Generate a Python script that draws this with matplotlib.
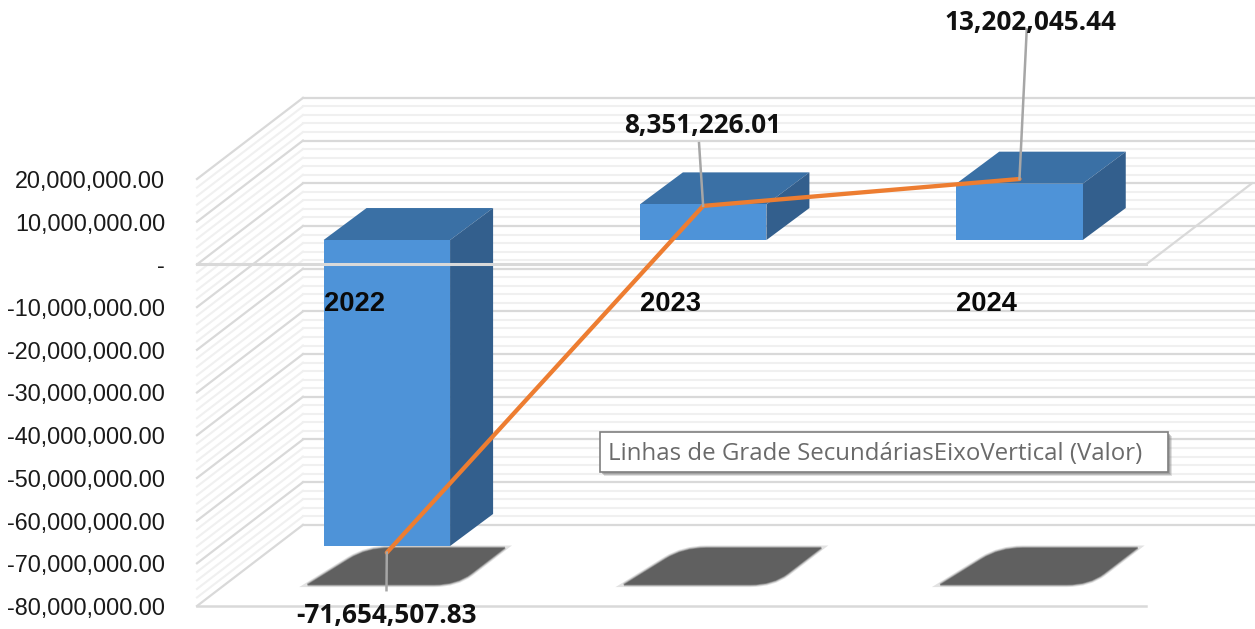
import numpy as np
import matplotlib
matplotlib.use("Agg")
import matplotlib.pyplot as plt
from matplotlib.patches import PathPatch, Polygon, Rectangle
from matplotlib.path import Path
from matplotlib.ticker import FuncFormatter

years = ["2022", "2023", "2024"]
bar_values = [-71654507.83, 8351226.01, 13202045.44]
bar_labels = ["-71,654,507.83", "8,351,226.01", "13,202,045.44"]
# the orange line does not sit exactly on the bar tops in the picture
line_values = [-73200000, 8000000, 14300000]
tooltip = "Linhas de Grade SecundáriasEixoVertical (Valor)"

W, H = 1255, 629
M = 1e6

# oblique "3D" offsets, in data units
DEPTH_X = 0.335
DEPTH_Y = 19 * M
BAR_LIFT = 5.7 * M
BAR_HALF = 0.2
BAR_DX = 0.136
BAR_DY = 7.5 * M

FRONT = "#4E93D8"
TOP = "#3A70A5"
SIDE = "#335F8D"
MAJOR = "#D9D9D9"
MINOR = "#F0F0F0"
SHADOW = "#606060"

fig = plt.figure(figsize=(W / 100, H / 100), dpi=100)
ax = fig.add_axes([197 / W, 1 - 606 / H, 949 / W, 427 / H])
ax.set_xlim(-0.6, 2.4)
ax.set_ylim(-80 * M, 20 * M)
for s in ax.spines.values():
    s.set_visible(False)


def fmt(v, pos):
    if v == 0:
        return "-"
    return f"{v:,.2f}"


ax.set_xticks([])
ax.set_yticks(np.arange(-80, 21, 10) * M)
ax.yaxis.set_major_formatter(FuncFormatter(fmt))
ax.tick_params(axis="y", length=0, pad=23, labelsize=16.8, labelcolor="#1a1a1a")
for t in ax.get_yticklabels():
    t.set_fontfamily("Liberation Sans")

# walls: minor lines first, then major ones
x_left = -0.6
x_back = x_left + DEPTH_X
x_end = 2.74
for v in np.arange(-80, 20.1, 2):
    is_major = int(v) % 10 == 0
    c = MAJOR if is_major else MINOR
    lw = 1.6 if is_major else 1.5
    z = 2 if is_major else 1
    y = v * M
    ax.plot([x_left, x_back], [y, y + DEPTH_Y], color=c, lw=lw, zorder=z, clip_on=False)
    ax.plot([x_back, x_end], [y + DEPTH_Y, y + DEPTH_Y], color=c, lw=lw, zorder=z, clip_on=False)

# floor front edge and right edge of the zero plane
ax.plot([x_left, 2.4], [-80 * M, -80 * M], color=MAJOR, lw=1.8, zorder=3, clip_on=False)
ax.plot([2.4, 2.4 + DEPTH_X], [0, DEPTH_Y], color=MAJOR, lw=1.6, zorder=3, clip_on=False)


def shadow_path(i):
    # pointed at the acute corners, rounded at the two obtuse ones
    t, b = -66.4 * M, -75 * M
    h = t - b
    verts = [(i - 0.25, b), (i - 0.119, b + 0.7 * h), (i - 0.063, t), (i + 0.01, t),
             (i + 0.373, t), (i + 0.267, t - 0.7 * h), (i + 0.221, b), (i + 0.15, b), (i - 0.25, b)]
    codes = [Path.MOVETO, Path.LINETO, Path.CURVE3, Path.CURVE3,
             Path.LINETO, Path.LINETO, Path.CURVE3, Path.CURVE3, Path.CLOSEPOLY]
    return Path(verts, codes)


# shadows under the bars, soft edge from stacked strokes
for i in range(len(years)):
    for lw, a in [(3.5, 0.18), (2.2, 0.3), (1, 0.6)]:
        ax.add_patch(PathPatch(shadow_path(i), facecolor="none", edgecolor=SHADOW, lw=lw, alpha=a,
                               zorder=4, clip_on=False))
    ax.add_patch(PathPatch(shadow_path(i), facecolor=SHADOW, edgecolor="none", zorder=4.1, clip_on=False))

# bars
for i, v in enumerate(bar_values):
    l = i - BAR_HALF
    r = i + BAR_HALF
    top = BAR_LIFT if v < 0 else BAR_LIFT + v
    bottom = BAR_LIFT + v if v < 0 else BAR_LIFT
    ax.add_patch(Polygon([(l, top), (r, top), (r + BAR_DX, top + BAR_DY), (l + BAR_DX, top + BAR_DY)],
                         facecolor=TOP, edgecolor="none", zorder=5, clip_on=False))
    ax.add_patch(Polygon([(r, top), (r + BAR_DX, top + BAR_DY), (r + BAR_DX, bottom + BAR_DY), (r, bottom)],
                         facecolor=SIDE, edgecolor="none", zorder=5, clip_on=False))
    ax.add_patch(Rectangle((l, bottom), r - l, top - bottom, facecolor=FRONT, edgecolor="none",
                           zorder=6, clip_on=False))

# zero line runs across the first bar
ax.plot([x_left, 2.4], [0, 0], color=MAJOR, lw=2.2, zorder=7, clip_on=False)

# year labels
for i, y in enumerate(years):
    ax.text(i - BAR_HALF, -9.3 * M, y, fontfamily="Liberation Sans", fontweight="bold", fontsize=19.7,
            color="#0a0a0a", ha="left", va="center", zorder=9)

# orange line with leaders
xs = np.arange(len(years))
ys = np.array(line_values) + BAR_LIFT
ax.plot(xs, ys, color="#ED7D31", lw=3.1, zorder=8, clip_on=False, solid_capstyle="round")

leader_ends = [(-0.001, -76.3 * M), (0.987, 28.4 * M), (2.023, 55 * M)]
label_pos = [(0.0, -82.2 * M), (1.0, 32.6 * M), (2.035, 56.6 * M)]
for i in range(len(years)):
    ax.plot([xs[i], leader_ends[i][0]], [ys[i], leader_ends[i][1]], color="#A6A6A6", lw=1.8, zorder=8.5, clip_on=False)
    ax.text(label_pos[i][0], label_pos[i][1], bar_labels[i], fontfamily="Open Sans", fontweight="bold",
            fontsize=18.8, color="#111111", ha="center", va="center", zorder=10, clip_on=False)

# hover tooltip left in the screenshot
for off, a in [(4, 0.25), (3, 0.35), (2, 0.5)]:
    fig.add_artist(Rectangle(((600 + off) / W, 1 - (472 + off) / H), 568 / W, 40 / H, transform=fig.transFigure,
                             facecolor="#8A8A8A", edgecolor="none", zorder=11, alpha=a))
fig.add_artist(Rectangle((600 / W, 1 - 472 / H), 568 / W, 40 / H, transform=fig.transFigure,
                         facecolor="white", edgecolor="#7F7F7F", lw=1.2, zorder=12))
fig.text(608 / W, 1 - 453.5 / H, tooltip, fontfamily="Open Sans", fontsize=17.3, color="#6A6A6A",
         ha="left", va="center", zorder=13)

fig.savefig("out.png", dpi=100)
